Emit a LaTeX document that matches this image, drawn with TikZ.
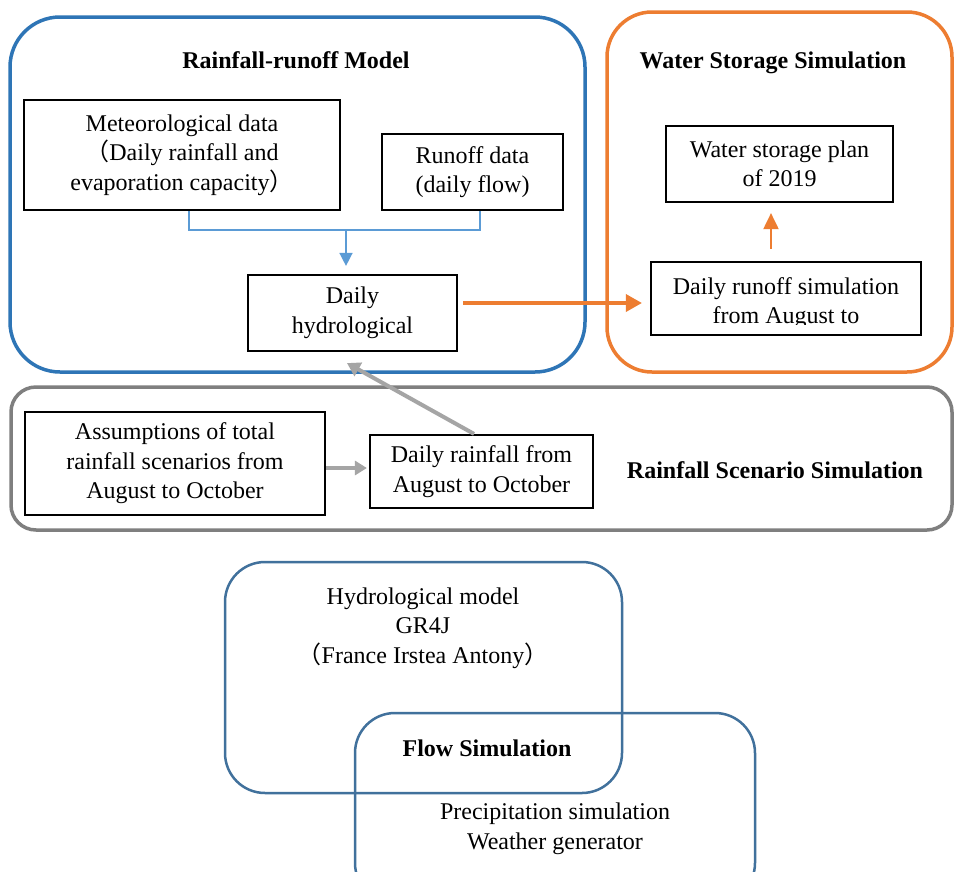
\documentclass[tikz,border=0pt]{standalone}
\usepackage{fontspec}
\setmainfont{Liberation Serif}
\newfontfamily\cjk{Noto Sans CJK SC}
\usetikzlibrary{arrows.meta}
\definecolor{cblue}{RGB}{46,117,182}
\definecolor{corange}{RGB}{237,125,49}
\definecolor{cgray}{RGB}{127,127,127}
\definecolor{cline}{RGB}{91,155,213}
\definecolor{carrgray}{RGB}{165,165,165}
\definecolor{cbottom}{RGB}{65,113,156}
\tikzset{
  txt/.style={font=\fontsize{24}{29.5}\selectfont, align=center, inner sep=0pt},
  ttl/.style={font=\fontsize{24}{29.5}\selectfont\bfseries, align=center, inner sep=0pt},
  box/.style={txt, draw=black, line width=2.2pt},
  group/.style={draw, line width=3.5pt, rounded corners=#1, inner sep=0pt},
  venn/.style={draw=cbottom, line width=2.5pt, rounded corners=40pt, inner sep=0pt},
}
\begin{document}
\begin{tikzpicture}[x=1pt,y=-1pt]
\useasboundingbox (0,0) rectangle (954,871);
\clip (0,0) rectangle (954,871);
\fill[white] (0,0) rectangle (954,871);

% Rainfall-runoff model group
\node[group=50pt, draw=cblue, minimum width=575pt, minimum height=355pt] (rr) at (297.5,194.5) {};
\node[ttl] (rrt) at (296,60) {Rainfall-runoff Model};
\node[box, minimum width=316pt, minimum height=110pt] (met) at (182,155)
  {Meteorological data\\{\cjk （}Daily rainfall and\\evaporation capacity{\cjk ）}};
\node[box, minimum width=181pt, minimum height=76pt] (ro) at (472.5,172) {Runoff data\\(daily flow)};
\node[box, minimum width=209pt, minimum height=76pt] (dh) at (352.5,313) {Daily\\hydrological};
\coordinate (j) at (346,230);
\draw[cline, line width=1.5pt] ([xshift=7pt]met.south) |- (j) -| ([xshift=7.5pt]ro.south);
\draw[cline, line width=1.5pt, -{Triangle[length=13pt,width=13pt]}, shorten >=8pt] (j) -- (j |- dh.north);

% Water storage simulation group
\node[group=45pt, draw=corange, minimum width=345pt, minimum height=360pt] (ws) at (779.5,192) {};
\node[ttl] (wst) at (773,63) {Water Storage Simulation};
\node[box, minimum width=227pt, minimum height=76pt] (wsp) at (779.5,164) {Water storage plan\\of 2019};
\node[draw=black, line width=2.2pt, inner sep=0pt, minimum width=270pt, minimum height=73pt] (drs) at (786,298.5) {};
\begin{scope}
  \clip (651,262) rectangle (921,324);
  \node[txt] (drst) at (786,303) {Daily runoff simulation\\from August to};
\end{scope}
\coordinate (a1) at ([xshift=5pt,yshift=10pt]dh.east);
\draw[corange, line width=3.5pt, -{Triangle[length=16pt,width=17pt]}, shorten >=8pt] (a1) -- (a1 -| drs.west);
\coordinate (a3) at ([xshift=-15pt]drs.north);
\draw[corange, line width=2pt, -{Triangle[length=16pt,width=15pt]}, shorten >=10pt, shorten <=12pt]
  (a3) -- (a3 |- wsp.south);

% Rainfall scenario simulation group
\node[group=25pt, draw=cgray, minimum width=941pt, minimum height=143pt] (rs) at (481.5,458.5) {};
\node[box, minimum width=300pt, minimum height=103pt] (as) at (175,463.5)
  {Assumptions of total\\rainfall scenarios from\\August to October};
\node[box, minimum width=223pt, minimum height=73pt] (drf) at (481.5,471.5)
  {Daily rainfall from\\August to October};
\node[ttl] (rst) at (775,470) {Rainfall Scenario Simulation};
\coordinate (a2) at ([yshift=-4.5pt]as.east);
\draw[carrgray, line width=4pt, -{Triangle[length=12pt,width=14pt]}, shorten >=2pt] (a2) -- (a2 -| drf.west);
\draw[carrgray, line width=4pt, -{Triangle[length=13pt,width=15pt]}]
  ([xshift=-7.5pt]drf.north) -- ([xshift=-5.5pt,yshift=-11pt]dh.south);

% Flow simulation (Venn-like)
\node[venn, minimum width=397pt, minimum height=231pt] (hm) at (423.5,677.5) {};
\node[venn, minimum width=400pt, minimum height=190pt] (ps) at (555,808) {};
\node[txt] (hmt) at (423,628) {Hydrological model\\GR4J\\{\cjk （}France Irstea Antony{\cjk ）}};
\node[ttl] (fs) at (487,748) {Flow Simulation};
\node[txt] (pst) at (555,829) {Precipitation simulation\\Weather generator};
\end{tikzpicture}
\end{document}
